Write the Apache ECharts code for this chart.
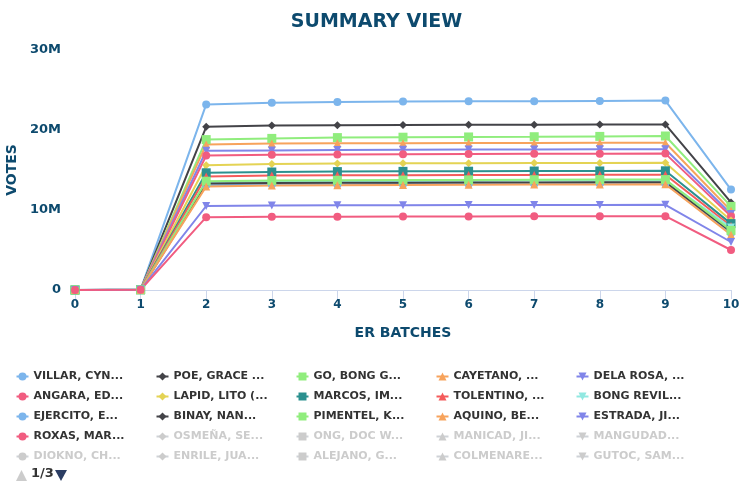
<!DOCTYPE html>
<html>
<head>
<meta charset="utf-8">
<style>
  html, body { margin: 0; padding: 0; background: #fff; }
  #chart { width: 753px; height: 496px; }
</style>
<script src="https://cdn.jsdelivr.net/npm/echarts@6/dist/echarts.min.js"></script>
</head>
<body>
<div id="chart"></div>
<script>
// x 轴批次
const batches = ['0', '1', '2', '3', '4', '5', '6', '7', '8', '9', '10'];

// 候选人（图例第 1 页，按行排列，每行 5 个）
const candidates = [
  'VILLAR, CYNTHIA (NP)', 'POE, GRACE (IND)', 'GO, BONG GO (PDPLBN)', 'CAYETANO, PIA (NP)', 'DELA ROSA, BATO (PDPLBN)',
  'ANGARA, EDGARDO SONNY (LDP)', 'LAPID, LITO (NPC)', 'MARCOS, IMEE (NP)', 'TOLENTINO, FRANCIS (PDPLBN)', 'BONG REVILLA, RAMON JR (LAKAS)',
  'EJERCITO, ESTRADA JV (NPC)', 'BINAY, NANCY (UNA)', 'PIMENTEL, KOKO (PDPLBN)', 'AQUINO, BENIGNO BAM (LP)', 'ESTRADA, JINGGOY (PMP)',
  'ROXAS, MAR (LP)', 'OSMEÑA, SERGE (IND)', 'ONG, DOC WILLIE (LAKAS)', 'MANICAD, JIGGY (IND)', 'MANGUDADATU, DONG (PDPLBN)',
  'DIOKNO, CHEL (LP)', 'ENRILE, JUAN PONCE (PMP)', 'ALEJANO, GARY (LP)', 'COLMENARES, NERI (MKBYN)', 'GUTOC, SAMIRA (LP)'
];
// 图例上显示的截断文字
const legendLabels = [
  'VILLAR, CYN...', 'POE, GRACE ...', 'GO, BONG G...', 'CAYETANO, ...', 'DELA ROSA, ...',
  'ANGARA, ED...', 'LAPID, LITO (...', 'MARCOS, IM...', 'TOLENTINO, ...', 'BONG REVIL...',
  'EJERCITO, E...', 'BINAY, NAN...', 'PIMENTEL, K...', 'AQUINO, BE...', 'ESTRADA, JI...',
  'ROXAS, MAR...', 'OSMEÑA, SE...', 'ONG, DOC W...', 'MANICAD, JI...', 'MANGUDAD...',
  'DIOKNO, CH...', 'ENRILE, JUA...', 'ALEJANO, G...', 'COLMENARE...', 'GUTOC, SAM...'
];

// 票数（单位：百万）
const villarVotes   = [0, 0.05, 23.2, 23.4, 23.5, 23.55, 23.58, 23.6, 23.64, 23.68, 12.55];
const poeVotes      = [0, 0.05, 20.4, 20.55, 20.6, 20.63, 20.65, 20.67, 20.69, 20.7, 10.95];
const goVotes       = [0, 0.04, 18.8, 18.95, 19.05, 19.1, 19.13, 19.16, 19.2, 19.25, 10.45];
const cayetanoVotes = [0, 0.04, 18.2, 18.3, 18.33, 18.35, 18.37, 18.38, 18.4, 18.4, 9.9];
const delaRosaVotes = [0, 0.04, 17.4, 17.45, 17.5, 17.52, 17.55, 17.57, 17.58, 17.6, 9.5];
const angaraVotes   = [0, 0.03, 16.8, 16.9, 16.95, 16.98, 17.0, 17.02, 17.04, 17.05, 9.2];
const lapidVotes    = [0, 0.03, 15.6, 15.75, 15.8, 15.83, 15.85, 15.87, 15.88, 15.9, 8.7];
const marcosVotes   = [0, 0.03, 14.65, 14.75, 14.8, 14.83, 14.85, 14.87, 14.88, 14.9, 8.3];
const tolentinoVotes = [0, 0.03, 14.2, 14.3, 14.33, 14.35, 14.37, 14.38, 14.4, 14.4, 8.0];
const revillaVotes  = [0, 0.03, 13.5, 13.58, 13.62, 13.64, 13.66, 13.68, 13.7, 13.7, 7.8];
const ejercitoVotes = [0, 0.03, 13.1, 13.18, 13.2, 13.22, 13.24, 13.25, 13.27, 13.28, 7.1];
const binayVotes    = [0, 0.03, 13.3, 13.38, 13.4, 13.42, 13.44, 13.45, 13.47, 13.48, 7.3];
const pimentelVotes = [0, 0.03, 13.6, 13.68, 13.72, 13.74, 13.76, 13.78, 13.8, 13.8, 7.45];
const aquinoVotes   = [0, 0.03, 12.95, 13.05, 13.1, 13.13, 13.16, 13.18, 13.2, 13.22, 6.9];
const estradaVotes  = [0, 0.02, 10.5, 10.55, 10.58, 10.6, 10.62, 10.63, 10.64, 10.65, 6.0];
const roxasVotes    = [0, 0.02, 9.1, 9.15, 9.17, 9.18, 9.2, 9.21, 9.22, 9.23, 5.0];
// 图中被隐藏的候选人，看不到数值
const hiddenVotes = [];

const seriesValues = [
  villarVotes, poeVotes, goVotes, cayetanoVotes, delaRosaVotes,
  angaraVotes, lapidVotes, marcosVotes, tolentinoVotes, revillaVotes,
  ejercitoVotes, binayVotes, pimentelVotes, aquinoVotes, estradaVotes,
  roxasVotes, hiddenVotes, hiddenVotes, hiddenVotes, hiddenVotes,
  hiddenVotes, hiddenVotes, hiddenVotes, hiddenVotes, hiddenVotes
];
const hiddenNames = candidates.slice(16);

// 样式
const palette = ['#7cb5ec', '#434348', '#90ed7d', '#f7a35c', '#8085e9',
  '#f15c80', '#e4d354', '#2b908f', '#f45b5b', '#91e8e1'];
const symbols = ['circle', 'diamond', 'rect', 'triangle', 'path://M0,0L10,0L5,9Z'];
const FONT = 'DejaVu Sans';
const NAVY = '#0d4a6e';

const selectedMap = {};
hiddenNames.forEach(n => { selectedMap[n] = false; });

const series = candidates.map((name, i) => ({
  name,
  type: 'line',
  data: seriesValues[i],
  symbol: symbols[i % 5],
  symbolSize: i % 5 === 2 ? 9 : 8,
  color: palette[i % 10],
  lineStyle: { width: 2 },
  itemStyle: { color: palette[i % 10] },
  emphasis: { disabled: true }
}));

// 5 列图例，每列一个 legend 组件
const colLeft = [15.5, 155.5, 295.5, 435.5, 575.5];
const legends = colLeft.map((left, c) => ({
  orient: 'vertical',
  left,
  top: 371,
  padding: 0,
  itemGap: 9,
  itemWidth: 12,
  itemHeight: 10,
  inactiveColor: '#cccccc',
  selected: selectedMap,
  data: candidates.filter((_, i) => i % 5 === c),
  formatter: name => legendLabels[candidates.indexOf(name)],
  textStyle: {
    fontFamily: FONT, fontWeight: 'bold', fontSize: 11, color: '#333333', lineHeight: 10
  }
}));

const chart = echarts.init(document.getElementById('chart'));
chart.setOption({
  animation: false,
  title: {
    text: 'SUMMARY VIEW',
    left: 'center',
    top: 8,
    textStyle: { fontFamily: FONT, fontWeight: 'bold', fontSize: 19, color: NAVY }
  },
  grid: { left: 75, right: 22, top: 50, bottom: 206, outerBoundsMode: 'none' },
  legend: legends,
  xAxis: {
    type: 'category',
    data: batches,
    boundaryGap: false,
    name: 'ER BATCHES',
    nameLocation: 'middle',
    nameGap: 36,
    nameTextStyle: { fontFamily: FONT, fontWeight: 'bold', fontSize: 14, color: NAVY },
    axisLine: { lineStyle: { color: '#ccd6eb', width: 1 } },
    axisTick: { alignWithLabel: true, length: 9, lineStyle: { color: '#ccd6eb' } },
    axisLabel: { margin: 9, fontFamily: FONT, fontWeight: 'bold', fontSize: 12, color: NAVY }
  },
  yAxis: {
    type: 'value',
    min: 0,
    max: 30,
    interval: 10,
    name: 'VOTES',
    nameLocation: 'middle',
    nameRotate: 90,
    nameGap: 56,
    nameTextStyle: { fontFamily: FONT, fontWeight: 'bold', fontSize: 14, color: NAVY },
    axisLine: { show: false },
    axisTick: { show: false },
    splitLine: { show: false },
    axisLabel: {
      margin: 14,
      fontFamily: FONT, fontWeight: 'bold', fontSize: 13, color: NAVY,
      formatter: v => (v === 0 ? '0' : v + 'M')
    }
  },
  // 图例翻页指示（1/3）
  graphic: [
    { type: 'polygon', shape: { points: [[16, 481], [27, 481], [21.5, 470]] }, style: { fill: '#cccccc' } },
    { type: 'text', left: 31, top: 467, style: { text: '1/3', font: 'bold 13px "DejaVu Sans"', fill: '#333333' } },
    { type: 'polygon', shape: { points: [[55, 470], [67, 470], [61, 481]] }, style: { fill: '#2b3d63' } }
  ],
  series
});
</script>
</body>
</html>
